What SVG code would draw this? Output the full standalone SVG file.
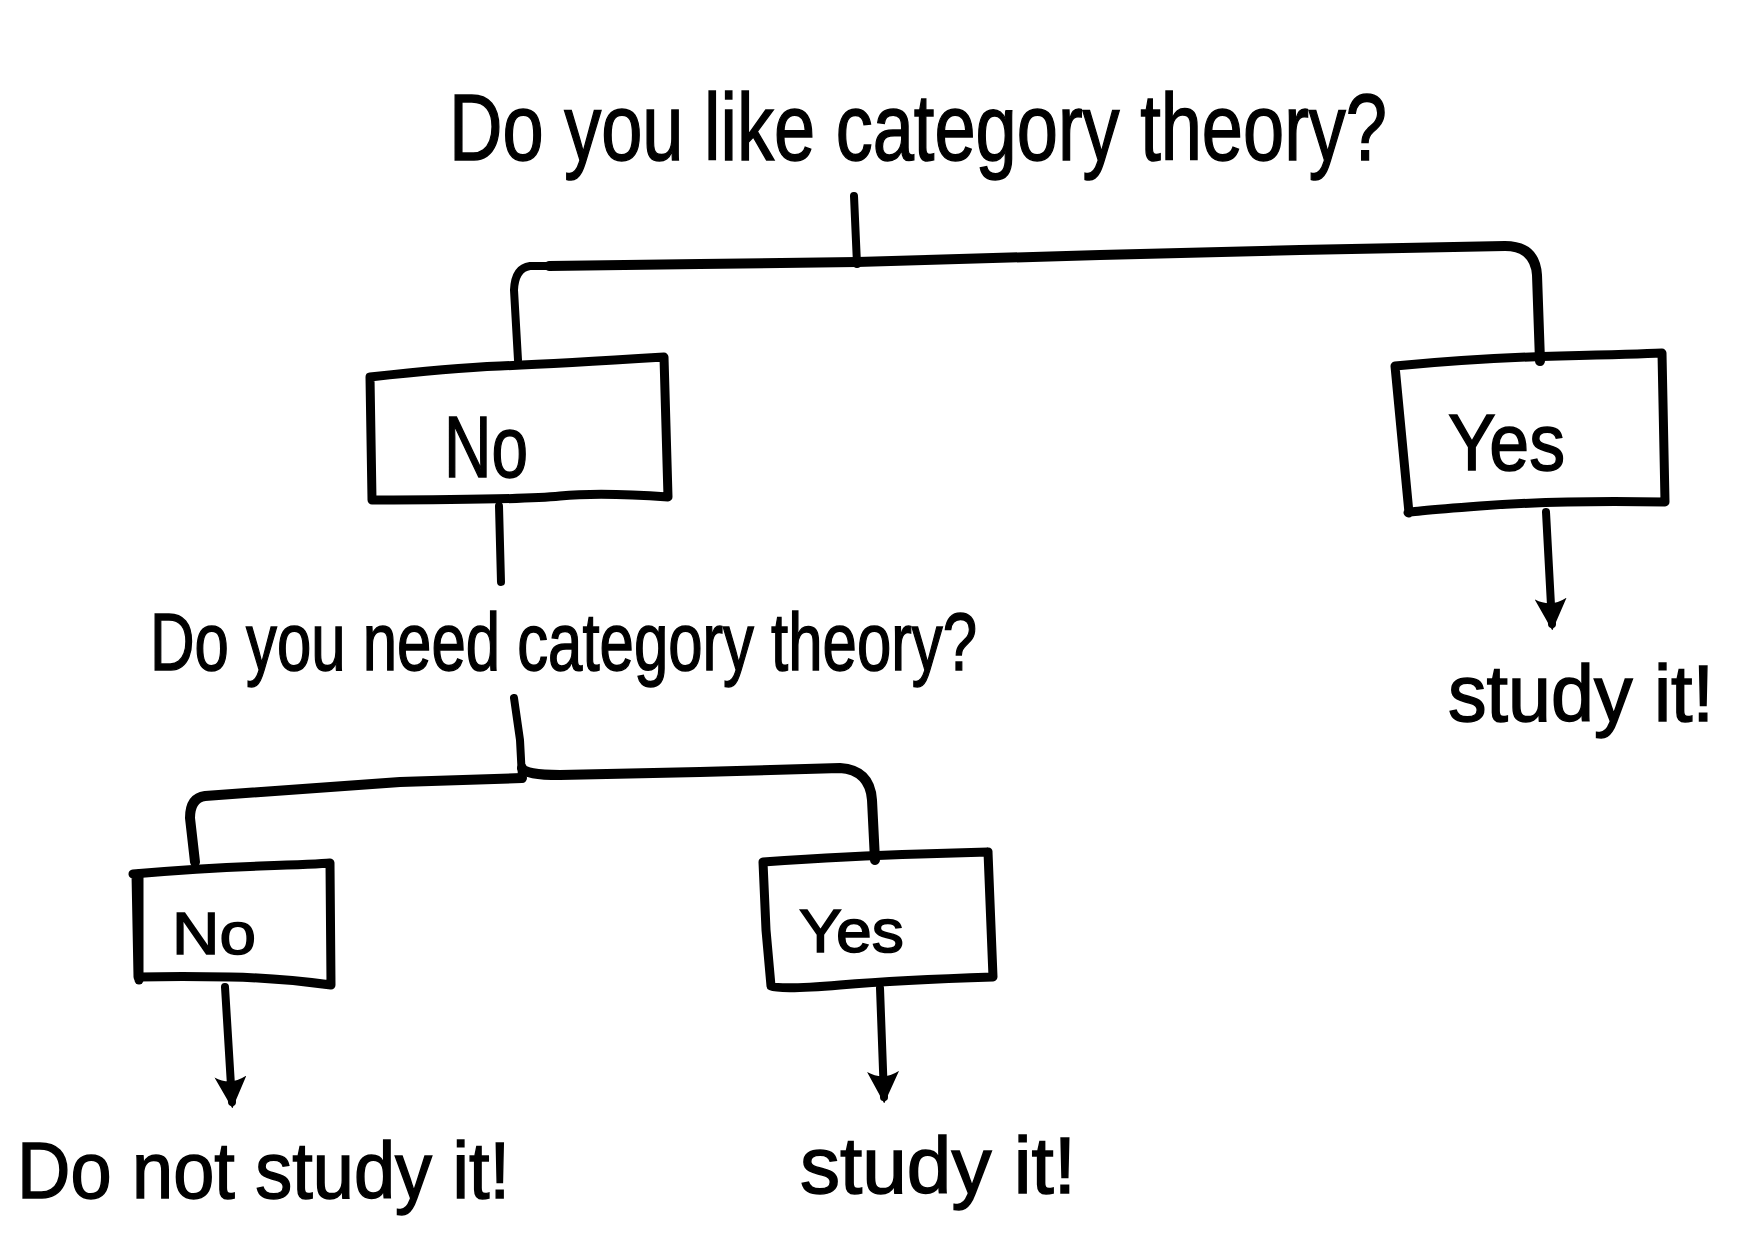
<svg xmlns="http://www.w3.org/2000/svg" width="1740" height="1253" viewBox="0 0 1740 1253">
<style>
.t{font-family:"Liberation Sans","DejaVu Sans",sans-serif;fill:#000;stroke:#000;stroke-width:1.5}
.box{fill:none;stroke:#000;stroke-width:9;stroke-linejoin:round;stroke-linecap:round}
.ln{fill:none;stroke:#000;stroke-width:8;stroke-linecap:round;stroke-linejoin:round}
.thk{stroke-width:10}
</style>
<defs>
<marker id="ah" viewBox="0 0 10 10" refX="8" refY="5" markerWidth="4" markerHeight="4" orient="auto" markerUnits="strokeWidth">
<path d="M0,0 Q3,5 0,10 L10,5 Z" fill="#000"/>
</marker>
</defs>
<rect width="1740" height="1253" fill="#fff"/>

<g id="q1"><text class="t" x="449" y="160" font-size="95" textLength="938" lengthAdjust="spacingAndGlyphs">Do you like category theory?</text></g>

<g id="no1">
<path class="box" d="M370,377 Q450,368 500,366 T664,357 L668,497 Q600,492 560,496 T372,500 Z"/>
<text class="t" x="444" y="477" font-size="88" textLength="84" lengthAdjust="spacingAndGlyphs">No</text>
</g>
<g id="yes1">
<path class="box" d="M1395,366 Q1480,358 1560,356 T1662,353 L1665,502 Q1560,500 1480,506 T1409,513 Z"/>
<text class="t" x="1448" y="470" font-size="80" textLength="117" lengthAdjust="spacingAndGlyphs">Yes</text>
</g>
<g id="q2"><text class="t" x="150" y="670" font-size="82" textLength="827" lengthAdjust="spacingAndGlyphs">Do you need category theory?</text></g>
<g id="no2">
<path class="box" d="M133,874 Q200,868 260,866 T330,863 L331,985 Q280,978 230,977 T139,977 L138,977 L136,874"/>
<path class="box" d="M139,980 L139,874"/>
<text class="t" x="172" y="954" font-size="60" textLength="84" lengthAdjust="spacingAndGlyphs">No</text>
</g>
<g id="yes2">
<path class="box" d="M763,862 Q850,856 920,854 T988,852 L993,977 Q900,980 840,985 T771,986 L766,930 L763,862"/>
<text class="t" x="799" y="952" font-size="62" textLength="105" lengthAdjust="spacingAndGlyphs">Yes</text>
</g>
<g id="out1"><text class="t" x="17" y="1198" font-size="80" textLength="493" lengthAdjust="spacingAndGlyphs">Do not study it!</text></g>
<g id="out2"><text class="t" x="800" y="1193" font-size="80" textLength="276" lengthAdjust="spacingAndGlyphs">study it!</text></g>
<g id="out3"><text class="t" x="1448" y="721" font-size="80" textLength="266" lengthAdjust="spacingAndGlyphs">study it!</text></g>

<g id="connectors">
<path class="ln" d="M854,196 L857,264"/>
<path class="ln thk" d="M549,266 L700,264 L857,262 L1100,255 L1300,250 L1505,246 Q1535,246 1537,275 L1540,361"/>
<path class="ln" d="M549,266 L530,266 Q515,268 514,290 L518,360"/>
<path class="ln" d="M499,506 L501,582"/>
<path class="ln" d="M514,698 L520,740 L522,778"/>
<path class="ln thk" d="M522,778 L400,782 L205,796 Q190,798 190,818 L195,862"/>
<path class="ln thk" d="M522,768 Q525,775 560,775 L700,772 L840,768 Q870,770 872,800 L875,860"/>
<path class="ln" d="M225,987 L232,1102" marker-end="url(#ah)"/>
<path class="ln" d="M880,988 L884,1097" marker-end="url(#ah)"/>
<path class="ln" d="M1546,512 L1552,624" marker-end="url(#ah)"/>
</g>
</svg>
